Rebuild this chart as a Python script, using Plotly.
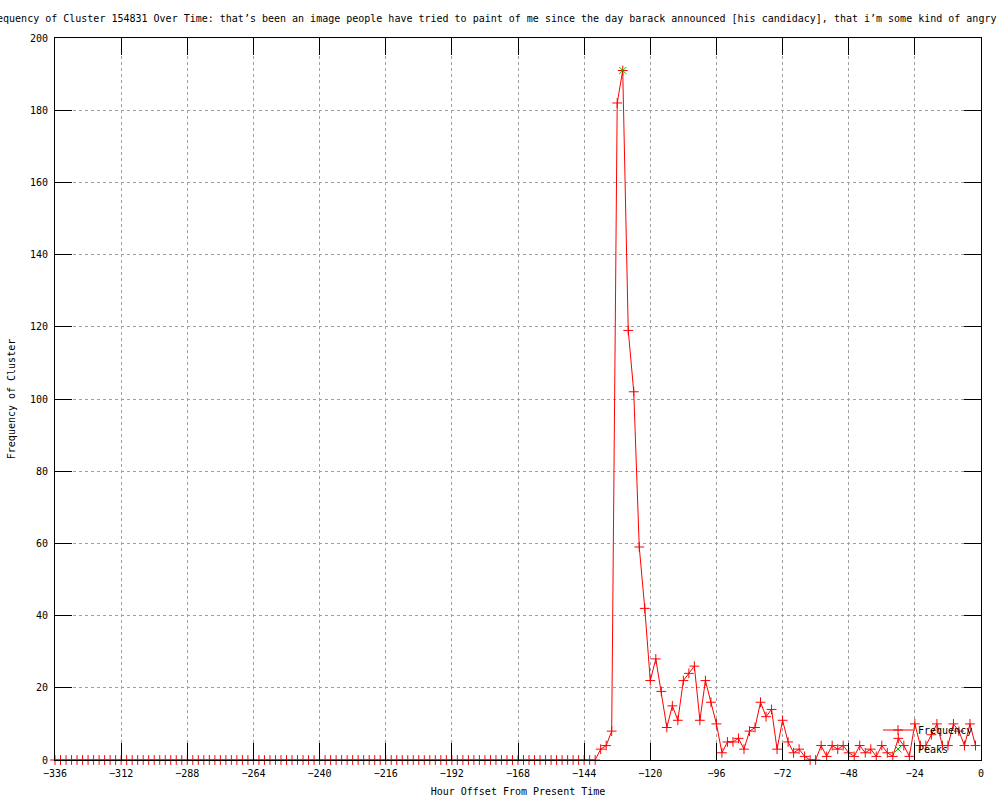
import plotly.graph_objects as go

# ---- data ----
hours = list(range(-336, 0, 2))  # -336 .. -2, every 2 hours
freq_early = [0] * 99  # -336 .. -140
freq_late = [3, 4, 8, 182, 191, 119, 102, 59, 42, 22, 28, 19, 9, 15, 11, 22, 24, 26,
             11, 22, 16, 10, 2, 5, 5, 6, 3, 8, 9, 16, 12, 14, 3, 11, 5, 2, 3, 1, 0, 0,
             4, 1, 4, 3, 4, 2, 1, 4, 2, 3, 1, 4, 2, 1, 6, 4, 1, 10, 4, 4, 7, 10, 4, 4,
             10, 8, 4, 10, 4]
frequency = freq_early + freq_late
peak_hours = [-130]
peak_values = [191]

title_text = ("Frequency of Cluster 154831 Over Time: that\u2019s been an image people have tried "
              "to paint of me since the day barack announced [his candidacy], that i\u2019m some "
              "kind of angry black woman")
x_ticks = list(range(-336, 1, 24))
y_ticks = list(range(0, 201, 20))

FONT = "DejaVu Sans Mono"
L, R, T, B = 55, 19, 38, 40
PW, PH = 1000 - L - R, 800 - T - B

fig = go.Figure()
fig.add_trace(go.Scatter(
    x=hours, y=frequency, mode="lines+markers", name="Frequency",
    line=dict(color="#ff0000", width=1),
    marker=dict(symbol="cross-thin", size=7, color="#ff0000",
                line=dict(color="#ff0000", width=1)),
    cliponaxis=False,
))
fig.add_trace(go.Scatter(
    x=peak_hours, y=peak_values, mode="markers", name="Peaks",
    marker=dict(symbol="x-thin", size=7, color="#00c000",
                line=dict(color="#00c000", width=1)),
    cliponaxis=False,
))

axis_common = dict(
    showline=True, linecolor="black", linewidth=1, mirror="ticks",
    ticks="inside", ticklen=17, tickcolor="black", tickwidth=1,
    showgrid=True, gridcolor="#a0a0a0", gridwidth=1, griddash="dot",
    zeroline=False, automargin=False,
    tickfont=dict(family=FONT, size=10, color="black"),
)

fig.update_layout(
    width=1000, height=800,
    paper_bgcolor="white", plot_bgcolor="white",
    margin=dict(l=L, r=R, t=T, b=B, autoexpand=False),
    font=dict(family=FONT, size=10, color="black"),
    xaxis=dict(range=[-336, 0], tickvals=x_ticks, ticklabelstandoff=4,
               title=dict(text="Hour Offset From Present Time",
                          font=dict(family=FONT, size=10), standoff=9),
               **axis_common),
    yaxis=dict(range=[0, 200], tickvals=y_ticks, ticklabelstandoff=4,
               title=dict(text="Frequency of Cluster",
                          font=dict(family=FONT, size=10), standoff=12),
               **axis_common),
    showlegend=True,
    legend=dict(x=(878 - L) / PW, y=(760 - 739.5) / PH, xanchor="left", yanchor="middle",
                bgcolor="rgba(0,0,0,0)", font=dict(family=FONT, size=10),
                tracegroupgap=0, itemwidth=30),
    annotations=[dict(text=title_text, xref="paper", yref="paper",
                      x=(-17 - L) / PW, y=1 + 19 / PH, xanchor="left", yanchor="middle",
                      showarrow=False, font=dict(family=FONT, size=10, color="black"))],
)

fig.write_html("out.html", config={"displayModeBar": False},
               post_script="document.body.style.margin='0';")
